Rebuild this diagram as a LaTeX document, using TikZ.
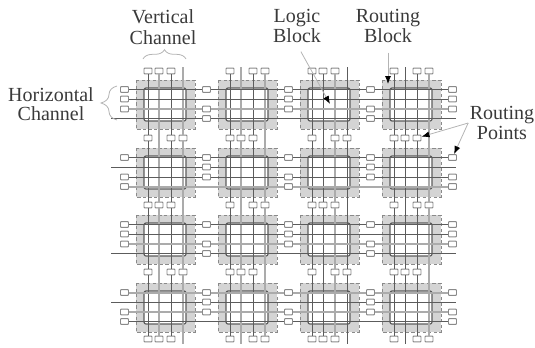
\documentclass[tikz,border=0pt]{standalone}
\usepackage{fontspec}
\setmainfont{Liberation Serif}
\usetikzlibrary{arrows.meta,decorations.pathreplacing}
\definecolor{Ink}{HTML}{3A3A3A}
\definecolor{Wire}{HTML}{5C5C5C}
\definecolor{WireSoft}{HTML}{ABABAB}
\definecolor{Shade}{HTML}{D4D4D4}
\definecolor{Edge}{HTML}{8A8A8A}
\definecolor{Note}{HTML}{B4B4B4}
\tikzset{
  pinbox/.style={draw=Edge,fill=white,line width=0.7pt,minimum width=6pt,minimum height=4.4pt,inner sep=0pt,rounded corners=0.6pt},
  wire/.style={draw=Wire,line width=0.6pt},
  softwire/.style={draw=WireSoft,line width=1.5pt},
  tilebox/.style={fill=Shade,draw=Edge,dashed,line width=0.7pt,dash pattern=on 2.4pt off 1.8pt},
  corebox/.style={fill=white,draw=Wire,line width=0.9pt,rounded corners=1.5pt},
  lbl/.style={align=center,inner sep=1pt,text=Ink,font=\fontsize{15}{15.5}\selectfont},
  callout/.style={draw=Note,line width=0.6pt},
  pointer/.style={callout,-{Latex[black,length=6pt,width=4.5pt]}},
  curly/.style={draw=Note,line width=0.6pt,decorate},
}
\begin{document}
\begin{tikzpicture}[x=0.75pt,y=-0.75pt]
  \useasboundingbox (0,0) rectangle (535,347);
  % blocks
  \foreach \col in {0,1,2,3}{
    \foreach \row/\ty in {0/80,1/148,2/215,3/283}{
      \draw[tilebox] (136+82*\col,\ty) rectangle (195+82*\col,\ty+49);
      \draw[corebox] (144+82*\col,\ty+8) rectangle (186+82*\col,\ty+41);
    }
  }
  % pins of the vertical channels
  \foreach \col in {0,1,2,3}{
    \foreach \gap/\gy/\by in {0/71/67,1/138/138,2/205/205,3/272/272,4/339/344}{
      \pgfmathtruncatemacro\nopin{isodd(\col+\gap)?2:4}
      \foreach \trk/\dx in {1/12,2/23,3/35,4/47}{
        \ifnum\trk=\nopin
          \coordinate (v\col\trk\gap) at (136+82*\col+\dx,\by);
        \else
          \node[pinbox] (v\col\trk\gap) at (136+82*\col+\dx,\gy) {};
        \fi
      }
    }
  }
  % pins of the horizontal channels
  \foreach \row/\ty in {0/80,1/148,2/215,3/283}{
    \foreach \gap/\gx/\bx in {0/124.5/111,1/206.5/206.5,2/288.5/288.5,3/370.5/370.5,4/452.5/456}{
      \pgfmathtruncatemacro\nopin{isodd(\row+\gap)?2:4}
      \foreach \trk/\dy in {1/9.5,2/19,3/29,4/38.5}{
        \ifnum\trk=\nopin
          \coordinate (h\row\trk\gap) at (\bx,\ty+\dy);
        \else
          \node[pinbox] (h\row\trk\gap) at (\gx,\ty+\dy) {};
        \fi
      }
    }
  }
  % tracks
  \foreach \col/\looks in {0/{wire,softwire,wire,softwire},1/{wire,softwire,wire,softwire},2/{wire,wire,softwire,wire},3/{wire,wire,wire,softwire}}{
    \foreach \look [count=\trk] in \looks{
      \foreach \gap/\nxt in {0/1,1/2,2/3,3/4}{
        \draw[\look] (v\col\trk\gap) -- (v\col\trk\nxt);
      }
    }
  }
  \foreach \row/\looks in {0/{wire,wire,softwire,wire},1/{wire,wire,wire,softwire},2/{wire,wire,softwire,wire},3/{softwire,wire,softwire,wire}}{
    \foreach \look [count=\trk] in \looks{
      \foreach \gap/\nxt in {0/1,1/2,2/3,3/4}{
        \draw[\look] (h\row\trk\gap) -- (h\row\trk\nxt);
      }
    }
  }
  % labels
  \node[lbl] (vchan) at (163,27) {Vertical\\Channel};
  \node[lbl] (hchan) at (51,104) {Horizontal\\[-1.5pt]Channel};
  \node[lbl] (logic) at (297,26) {Logic\\Block};
  \node[lbl] (routing) at (388,26) {Routing\\Block};
  \node[lbl] (points) at (502,123) {Routing\\Points};
  % braces
  \coordinate (vbraceL) at (143,59);
  \coordinate (vbraceR) at (186,59);
  \coordinate (hbraceT) at (117,86);
  \coordinate (hbraceB) at (117,120);
  \draw[curly,decoration={brace,amplitude=7pt}] (vbraceL) -- (vbraceR);
  \draw[curly,decoration={brace,amplitude=12pt}] (hbraceB) -- (hbraceT);
  % callouts
  \coordinate (logicTip) at (330,104);
  \coordinate (routingTip) at (388,84);
  \draw[pointer,shorten <=6pt] (logic.south) -- (logicTip);
  \draw[pointer,shorten <=6pt] (routing.south) -- (routingTip);
  \draw[pointer] (points.west) -- (v331);
  \draw[pointer] (points.west) -- (h114);
\end{tikzpicture}
\end{document}
